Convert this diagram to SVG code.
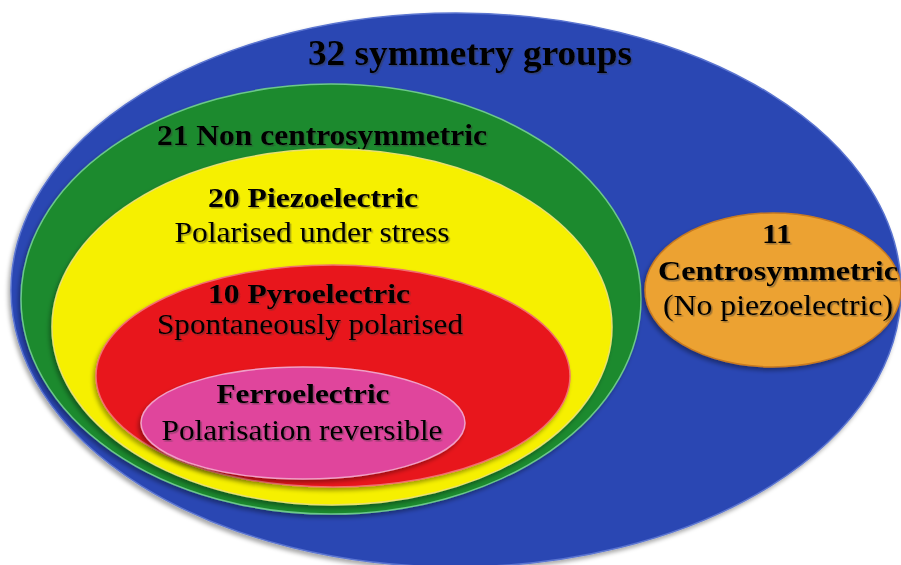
<svg xmlns="http://www.w3.org/2000/svg" width="901" height="565" viewBox="0 0 901 565">
<defs>
<filter id="sh" x="-5%" y="-5%" width="110%" height="110%">
<feDropShadow dx="-2" dy="3" stdDeviation="2" flood-color="#000" flood-opacity="0.35"/>
</filter>
<filter id="ts" x="-5%" y="-20%" width="110%" height="140%">
<feDropShadow dx="1.5" dy="1.5" stdDeviation="0.6" flood-color="#333" flood-opacity="0.45"/>
</filter>
</defs>
<style>
text{font-family:"Liberation Serif","Times New Roman",serif;fill:#000;text-anchor:middle;filter:url(#ts)}
.b{font-weight:bold}
.e{stroke-width:1.5}
</style>
<rect width="901" height="565" fill="#fff"/>
<g id="connectors"/>
<g id="symmetry32">
<ellipse class="e" cx="456" cy="290" rx="445" ry="277" fill="#2b47b3" stroke="#5a74d0" filter="url(#sh)"/>
<text class="b" x="470" y="65" font-size="36" textLength="324" lengthAdjust="spacingAndGlyphs">32 symmetry groups</text>
</g>
<g id="noncentro21">
<ellipse class="e" cx="331" cy="299" rx="310" ry="215" fill="#1e8a2f" stroke="#6cc98a" filter="url(#sh)"/>
<text class="b" x="322" y="145" font-size="29" textLength="330" lengthAdjust="spacingAndGlyphs">21 Non centrosymmetric</text>
</g>
<g id="piezo20">
<ellipse class="e" cx="332" cy="327" rx="280" ry="178" fill="#f6f000" stroke="#e8e070" filter="url(#sh)"/>
<text class="b" x="313" y="207" font-size="26.5" textLength="210" lengthAdjust="spacingAndGlyphs">20 Piezoelectric</text>
<text x="312" y="242" font-size="30" textLength="275" lengthAdjust="spacingAndGlyphs">Polarised under stress</text>
</g>
<g id="pyro10">
<ellipse class="e" cx="333" cy="376" rx="237" ry="111" fill="#e8141c" stroke="#f07070" filter="url(#sh)"/>
<text class="b" x="309" y="303" font-size="27" textLength="202" lengthAdjust="spacingAndGlyphs">10 Pyroelectric</text>
<text x="310" y="334" font-size="29.5" textLength="306" lengthAdjust="spacingAndGlyphs">Spontaneously polarised</text>
</g>
<g id="ferro">
<ellipse class="e" cx="303" cy="423" rx="162" ry="56" fill="#e0449c" stroke="#f0a0c8" filter="url(#sh)"/>
<text class="b" x="303" y="403" font-size="27" textLength="173" lengthAdjust="spacingAndGlyphs">Ferroelectric</text>
<text x="302" y="440" font-size="30" textLength="281" lengthAdjust="spacingAndGlyphs">Polarisation reversible</text>
</g>
<g id="centro11">
<ellipse class="e" cx="773" cy="290" rx="128" ry="77" fill="#eca232" stroke="#c87a20" filter="url(#sh)"/>
<text class="b" x="777" y="243" font-size="28" textLength="30" lengthAdjust="spacingAndGlyphs">11</text>
<text class="b" x="778" y="280" font-size="27" textLength="240" lengthAdjust="spacingAndGlyphs">Centrosymmetric</text>
<text x="778" y="315" font-size="30" textLength="230" lengthAdjust="spacingAndGlyphs">(No piezoelectric)</text>
</g>
</svg>
